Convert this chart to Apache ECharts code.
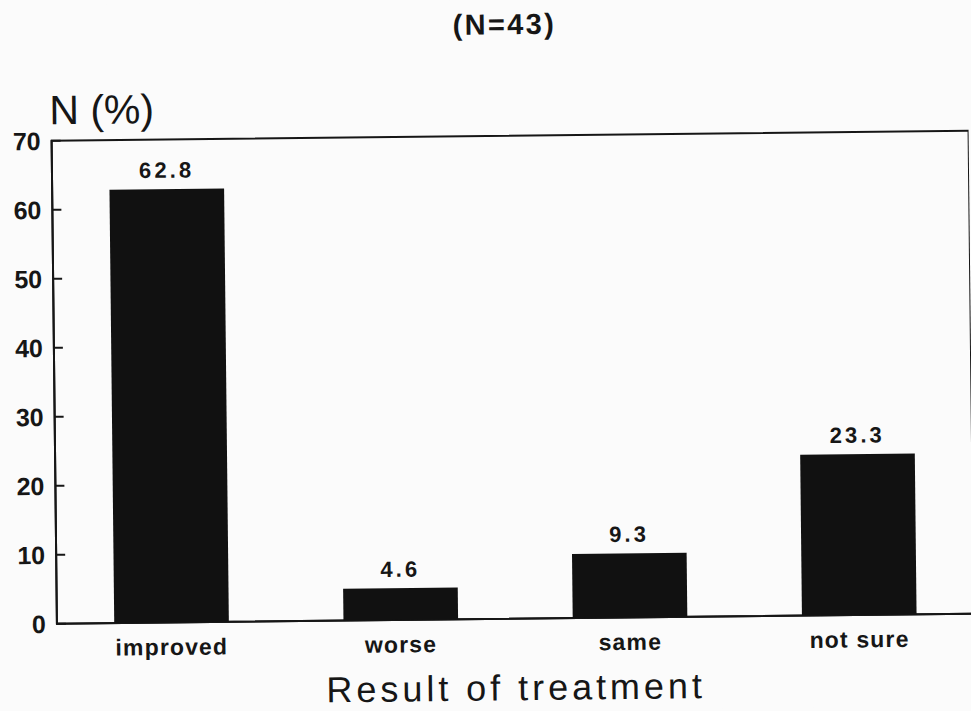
<!DOCTYPE html>
<html>
<head>
<meta charset="utf-8">
<script src="https://cdn.jsdelivr.net/npm/echarts@6/dist/echarts.min.js"></script>
<style>
  html, body { margin: 0; padding: 0; width: 971px; height: 711px; background: #fbfbfb; overflow: hidden; position: relative; }
  #chart { position: absolute; left: 0; top: 0; width: 971px; height: 711px; transform: rotate(-0.63deg); transform-origin: 50% 50%; }
  #chart svg { display: block; }
  /* typeset look of the original: loosely tracked Helvetica */
  #chart svg text[style*="29px"] { letter-spacing: 0.08em; }
  #chart svg text[style*="23px"] { letter-spacing: 0.05em; }
  #chart svg text[style*="22px"] { letter-spacing: 0.14em; }
  #chart svg text[style*="36px"] { letter-spacing: 0.11em; }
</style>
</head>
<body>
<div id="chart"></div>
<script>
const categories = ['improved', 'worse', 'same', 'not sure'];
const percentValues = [62.8, 4.6, 9.3, 23.3];
const yMin = 0, yMax = 70, yStep = 10;
const titleText = '(N=43)';
const yAxisName = 'N (%)';
const xAxisName = 'Result of treatment';

const ink = '#161616';
const font = '"Liberation Sans", Arial, Helvetica, sans-serif';

const chart = echarts.init(document.getElementById('chart'), null, { renderer: 'svg', width: 971, height: 711 });
chart.setOption({
  backgroundColor: '#fbfbfb',
  animation: false,
  textStyle: { fontFamily: font, color: ink },
  title: {
    text: titleText,
    left: 503,
    top: 5,
    textAlign: 'center',
    textStyle: { fontFamily: font, fontSize: 29, fontWeight: 'bold', color: ink }
  },
  grid: { left: 54, right: -2, top: 136, bottom: 89, show: true, borderColor: ink, borderWidth: 2, backgroundColor: 'transparent' },
  xAxis: {
    type: 'category',
    data: categories,
    boundaryGap: true,
    axisLine: { show: true, lineStyle: { color: ink, width: 2 } },
    axisTick: { show: false },
    axisLabel: { color: ink, fontFamily: font, fontSize: 23, fontWeight: 'bold', margin: 13 },
    name: xAxisName,
    nameLocation: 'middle',
    nameGap: 51,
    nameTextStyle: { color: ink, fontFamily: font, fontSize: 36 }
  },
  yAxis: {
    type: 'value',
    min: yMin, max: yMax, interval: yStep,
    axisLine: { show: true, lineStyle: { color: ink, width: 2 } },
    axisTick: { show: true, inside: true, length: 9, lineStyle: { color: ink, width: 2 } },
    splitLine: { show: false },
    axisLabel: { color: ink, fontFamily: font, fontSize: 25, fontWeight: 'bold', margin: 11 },
    name: yAxisName,
    nameLocation: 'end',
    nameGap: 10,
    nameTextStyle: { color: ink, fontFamily: font, fontSize: 41, align: 'left', verticalAlign: 'bottom', padding: [0, 0, 0, -2] }
  },
  series: [{
    type: 'bar',
    data: percentValues,
    barWidth: '50%',
    itemStyle: { color: '#111111' },
    label: {
      show: true,
      position: 'top',
      distance: 8,
      color: ink,
      fontFamily: font,
      fontSize: 22,
      fontWeight: 'bold',
      formatter: p => p.value.toFixed(1)
    }
  }]
});
</script>
</body>
</html>
